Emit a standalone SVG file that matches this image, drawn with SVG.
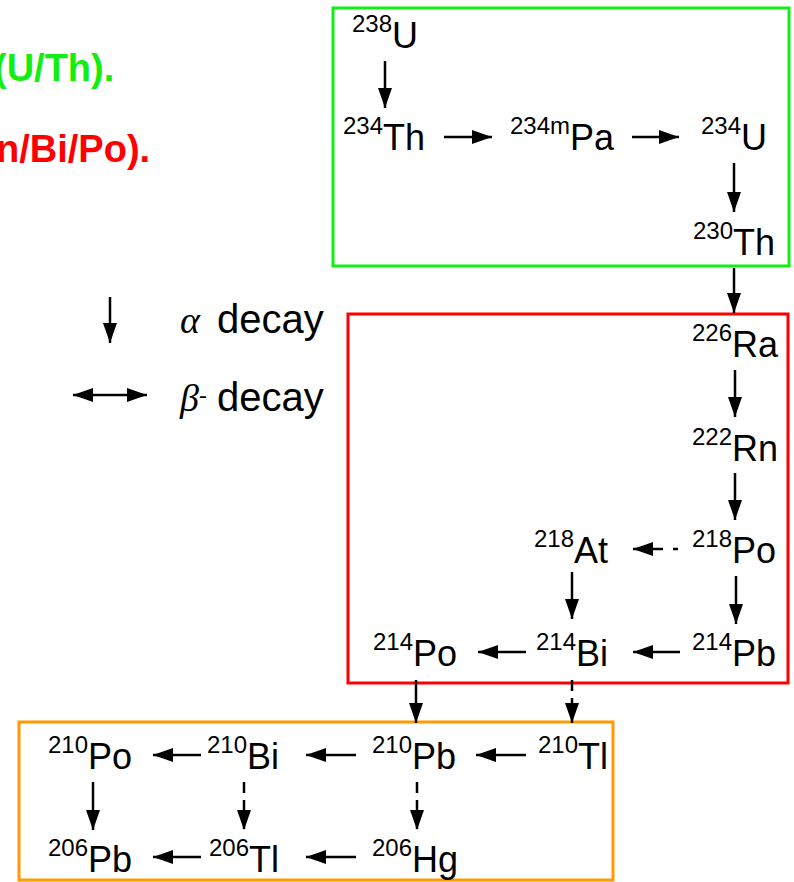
<svg xmlns="http://www.w3.org/2000/svg" width="794" height="882" viewBox="0 0 794 882">
<style>
  .el { font-family: "Liberation Sans", Arial, sans-serif; font-size: 36px; fill: #000; }
  .sup { font-size: 24px; }
  .hdr { font-family: "Liberation Sans", Arial, sans-serif; font-size: 38px; font-weight: bold; }
  .leg { font-family: "Liberation Sans", Arial, sans-serif; font-size: 40px; fill: #000; }
  .greek { font-family: "Liberation Serif", "Times New Roman", serif; font-style: italic; font-size: 38px; fill: #000; }
  .box { fill: none; stroke-width: 3; }
  .arr { stroke: #000; stroke-width: 2.5; fill: none; marker-end: url(#head); }
  .dash { stroke-dasharray: 11 7; }
</style>
<defs>
  <marker id="head" markerUnits="userSpaceOnUse" markerWidth="20" markerHeight="14" refX="20" refY="7" orient="auto">
    <path d="M0,0 L20,7 L0,14 z" fill="#000"/>
  </marker>
  <marker id="tail" markerUnits="userSpaceOnUse" markerWidth="20" markerHeight="14" refX="0" refY="7" orient="auto">
    <path d="M20,0 L0,7 L20,14 z" fill="#000"/>
  </marker>
</defs>

<!-- clipped header texts -->
<text class="hdr" x="-6" y="81" fill="#11ee11">(U/Th).</text>
<text class="hdr" x="-4" y="162" fill="#ff0000">n/Bi/Po).</text>

<!-- boxes -->
<rect id="box-green" class="box" x="333" y="8" width="456" height="258" stroke="#11ee11"/>
<rect id="box-red" class="box" x="348" y="314" width="440" height="369" stroke="#ff0000"/>
<rect id="box-orange" class="box" x="19" y="722" width="594" height="158" stroke="#ff9a00"/>

<!-- legend -->
<g id="legend">
  <line class="arr" x1="110" y1="297" x2="110" y2="343"/>
  <line x1="73" y1="395" x2="147" y2="395" stroke="#000" stroke-width="2.5" marker-start="url(#tail)" marker-end="url(#head)"/>
  <text class="greek" x="180" y="333">α</text>
  <text class="leg" x="217" y="333">decay</text>
  <text class="greek" x="180" y="411">β<tspan font-size="24" font-style="normal" dy="-8">-</tspan></text>
  <text class="leg" x="217" y="411">decay</text>
</g>

<!-- connectors -->
<g id="connectors">
  <line class="arr" x1="385" y1="61" x2="385" y2="108"/>
  <line class="arr" x1="734" y1="163" x2="734" y2="212"/>
  <line class="arr" x1="734" y1="268" x2="734" y2="313"/>
  <line class="arr" x1="735" y1="370" x2="735" y2="417"/>
  <line class="arr" x1="735" y1="473" x2="735" y2="520"/>
  <line class="arr" x1="572" y1="572" x2="572" y2="619"/>
  <line class="arr" x1="736" y1="576" x2="736" y2="624"/>
  <line class="arr" x1="416" y1="680" x2="416" y2="723"/>
  <line class="arr" x1="93" y1="782" x2="93" y2="830"/>

  <line class="arr dash" x1="572" y1="680" x2="572" y2="723"/>
  <line class="arr dash" x1="244" y1="782" x2="244" y2="830"/>
  <line class="arr dash" x1="417" y1="782" x2="417" y2="830"/>

  <line class="arr" x1="444" y1="137" x2="492" y2="137"/>
  <line class="arr" x1="632" y1="137" x2="679" y2="137"/>
  <line class="arr" x1="680" y1="652" x2="633" y2="652"/>
  <line class="arr" x1="526" y1="652" x2="478" y2="652"/>
  <line class="arr" x1="201" y1="755" x2="153" y2="755"/>
  <line class="arr" x1="356" y1="755" x2="306" y2="755"/>
  <line class="arr" x1="526" y1="755" x2="476" y2="755"/>
  <line class="arr" x1="201" y1="857" x2="153" y2="857"/>
  <line class="arr" x1="356" y1="857" x2="306" y2="857"/>

  <line class="arr" x1="678" y1="549" x2="633" y2="549" style="stroke-dasharray: 5 10 30"/>
</g>

<!-- nodes -->
<g id="n-U238"><text class="el" x="352" y="48"><tspan class="sup" dy="-16">238</tspan><tspan dy="16">U</tspan></text></g>
<g id="n-Th234"><text class="el" x="343" y="150"><tspan class="sup" dy="-16">234</tspan><tspan dy="16">Th</tspan></text></g>
<g id="n-Pa234m"><text class="el" x="510" y="150"><tspan class="sup" dy="-16">234m</tspan><tspan dy="16">Pa</tspan></text></g>
<g id="n-U234"><text class="el" x="701" y="150"><tspan class="sup" dy="-16">234</tspan><tspan dy="16">U</tspan></text></g>
<g id="n-Th230"><text class="el" x="693" y="255"><tspan class="sup" dy="-16">230</tspan><tspan dy="16">Th</tspan></text></g>
<g id="n-Ra226"><text class="el" x="692" y="357"><tspan class="sup" dy="-16">226</tspan><tspan dy="16">Ra</tspan></text></g>
<g id="n-Rn222"><text class="el" x="692" y="461"><tspan class="sup" dy="-16">222</tspan><tspan dy="16">Rn</tspan></text></g>
<g id="n-Po218"><text class="el" x="692" y="563"><tspan class="sup" dy="-16">218</tspan><tspan dy="16">Po</tspan></text></g>
<g id="n-At218"><text class="el" x="534" y="563"><tspan class="sup" dy="-16">218</tspan><tspan dy="16">At</tspan></text></g>
<g id="n-Pb214"><text class="el" x="692" y="666"><tspan class="sup" dy="-16">214</tspan><tspan dy="16">Pb</tspan></text></g>
<g id="n-Bi214"><text class="el" x="536" y="666"><tspan class="sup" dy="-16">214</tspan><tspan dy="16">Bi</tspan></text></g>
<g id="n-Po214"><text class="el" x="373" y="666"><tspan class="sup" dy="-16">214</tspan><tspan dy="16">Po</tspan></text></g>
<g id="n-Po210"><text class="el" x="48" y="769"><tspan class="sup" dy="-16">210</tspan><tspan dy="16">Po</tspan></text></g>
<g id="n-Bi210"><text class="el" x="207" y="769"><tspan class="sup" dy="-16">210</tspan><tspan dy="16">Bi</tspan></text></g>
<g id="n-Pb210"><text class="el" x="372" y="769"><tspan class="sup" dy="-16">210</tspan><tspan dy="16">Pb</tspan></text></g>
<g id="n-Tl210"><text class="el" x="538" y="769"><tspan class="sup" dy="-16">210</tspan><tspan dy="16">Tl</tspan></text></g>
<g id="n-Pb206"><text class="el" x="48" y="872"><tspan class="sup" dy="-16">206</tspan><tspan dy="16">Pb</tspan></text></g>
<g id="n-Tl206"><text class="el" x="209" y="872"><tspan class="sup" dy="-16">206</tspan><tspan dy="16">Tl</tspan></text></g>
<g id="n-Hg206"><text class="el" x="372" y="872"><tspan class="sup" dy="-16">206</tspan><tspan dy="16">Hg</tspan></text></g>
</svg>
